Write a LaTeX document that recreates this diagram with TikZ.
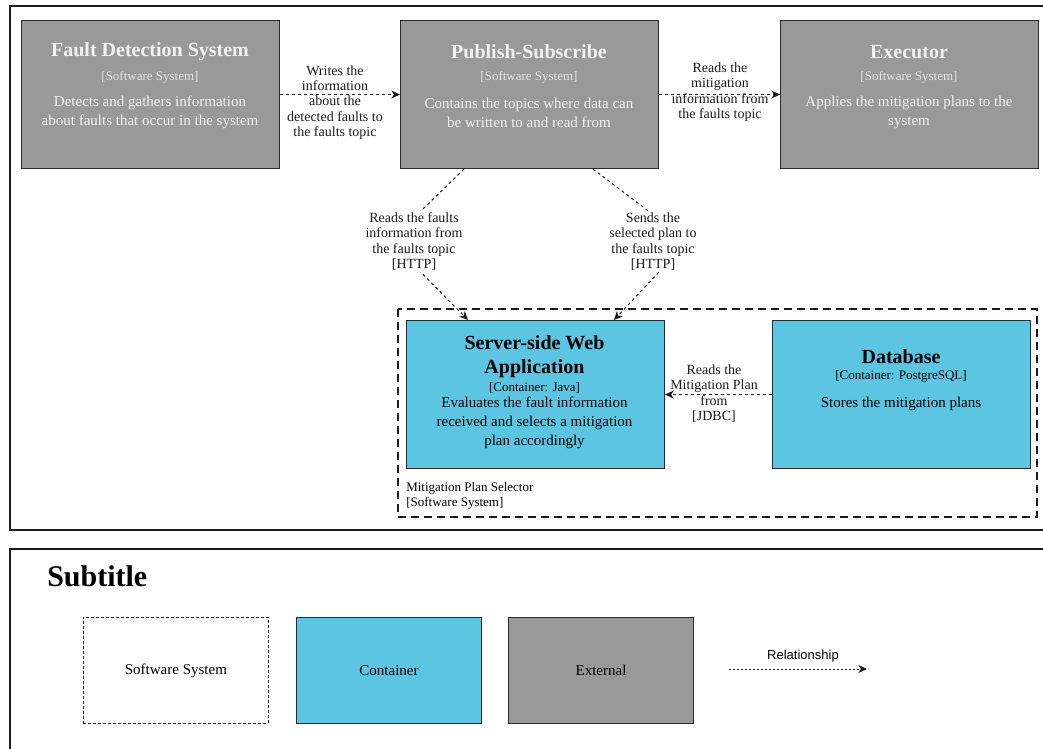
\documentclass[tikz,border=0pt]{standalone}
\usepackage{fontspec}
\setmainfont{Liberation Serif}
\newfontfamily\legendsans{Liberation Sans}
\usetikzlibrary{arrows.meta,calc}
\definecolor{extgray}{HTML}{999999}
\definecolor{contblue}{HTML}{5BC5E2}
\definecolor{edgeink}{HTML}{1A1A1A}
\definecolor{boxline}{HTML}{2A2A2A}
\definecolor{lighttxt}{HTML}{F2F2F2}
\definecolor{typetxt}{HTML}{E4E4E4}
\begin{document}
\begin{tikzpicture}[x=0.75pt,y=-0.75pt,
  sysbox/.style={draw=boxline, line width=0.8pt, minimum width=193.5pt,
    minimum height=111pt, anchor=north west, inner sep=0pt},
  extbox/.style={sysbox, fill=extgray},
  contbox/.style={sysbox, fill=contblue},
  ttl/.style={font=\bfseries\fontsize{15pt}{18pt}\selectfont, align=center, inner sep=0pt},
  typ/.style={font=\fontsize{9.75pt}{11.5pt}\selectfont, align=center, inner sep=0pt},
  dsc/.style={font=\fontsize{11.25pt}{14.25pt}\selectfont, align=center, inner sep=0pt},
  rellabel/.style={font=\fontsize{10.5pt}{11.5pt}\selectfont, align=center, inner sep=1pt, text=edgeink},
  rel/.style={draw=edgeink, line width=0.75pt, dash pattern=on 2.25pt off 2.25pt,
    -{Stealth[length=6.5pt,width=6pt,inset=2pt]}},
  frame/.style={draw=edgeink, line width=1.5pt},
  legbox/.style={draw=boxline, line width=0.75pt, minimum width=138.75pt,
    minimum height=79.5pt, anchor=north west, inner sep=0pt,
    font=\fontsize{11.25pt}{13pt}\selectfont}
]
\useasboundingbox (0,0) rectangle (1043,749);

% outer frames
\draw[frame] (1043,6) -- (10,6) -- (10,530) -- (1043,530);
\draw[frame] (1043,549) -- (10,549) -- (10,749);

% mitigation plan selector boundary
\draw[draw=edgeink, line width=1.1pt, dash pattern=on 6pt off 3.75pt]
  (398,309) rectangle (1037,517);
\node[typ, align=left, anchor=north west, text=black] (bnd) at (406,482)
  {Mitigation Plan Selector\\{}[Software System]};

% external software systems
\node[extbox] (fds) at (21,20) {};
\node[ttl, text=lighttxt] (fdsT) at (150,52) {Fault Detection System};
\node[typ, text=typetxt] (fdsY) at (150,77) {[Software System]};
\node[dsc, text=lighttxt] (fdsD) at (150,112.5)
  {Detects and gathers information\\about faults that occur in the system};

\node[extbox] (ps) at (400,20) {};
\node[ttl, text=lighttxt] (psT) at (529,52) {Publish-Subscribe};
\node[typ, text=typetxt] (psY) at (529,77) {[Software System]};
\node[dsc, text=lighttxt] (psD) at (529,112.5)
  {Contains the topics where data can\\be written to and read from};

\node[extbox] (ex) at (780,20) {};
\node[ttl, text=lighttxt] (exT) at (909,52) {Executor};
\node[typ, text=typetxt] (exY) at (909,77) {[Software System]};
\node[dsc, text=lighttxt] (exD) at (909,112.5)
  {Applies the mitigation plans to the\\system};

% containers
\node[contbox] (srv) at (406,320) {};
\node[ttl] (srvT) at (534.5,357) {Server-side Web\\Application};
\node[typ] (srvY) at (534.5,388) {[Container: Java]};
\node[dsc] (srvD) at (534.5,423)
  {Evaluates the fault information\\received and selects a mitigation\\plan accordingly};

\node[contbox] (db) at (772,320) {};
\node[ttl] (dbT) at (901,357) {Database};
\node[typ] (dbY) at (901,376) {[Container: PostgreSQL]};
\node[dsc] (dbD) at (901,404) {Stores the mitigation plans};

% relationships
\draw[rel] (fds) -- (ps);
\node[rellabel] (l1) at (335,102.5)
  {Writes the\\information\\about the\\detected faults to\\the faults topic};

\draw[rel] (ps) -- (ex);
\node[rellabel] (l2) at (720,92)
  {Reads the\\mitigation\\information from\\the faults topic};

\draw[rel] ($(ps.south west)+(64,0)$) -- (390,241) -- ($(srv.north west)+(62,0)$);
\node[rellabel, fill=white] (l3) at (414,241.5)
  {Reads the faults\\information from\\the faults topic\\{}[HTTP]};

\draw[rel] ($(ps.south west)+(193,0)$) -- (688,241) -- ($(srv.north west)+(208,0)$);
\node[rellabel, fill=white] (l4) at (653,241.5)
  {Sends the\\selected plan to\\the faults topic\\{}[HTTP]};

\draw[rel] (db) -- (srv);
\node[rellabel] (l5) at (714,393.5)
  {Reads the\\Mitigation Plan\\from\\{}[JDBC]};

% legend
\node[font=\bfseries\fontsize{22.5pt}{26pt}\selectfont, anchor=west, inner sep=0pt]
  (sub) at (47,576) {Subtitle};
\node[legbox, draw=edgeink, line width=0.6pt, dash pattern=on 2.25pt off 1.5pt]
  (lgSys) at (83,617) {Software System};
\node[legbox, fill=contblue] (lgCont) at (296,617) {Container};
\node[legbox, fill=extgray] (lgExt) at (508,617) {External};
\coordinate (lgA) at (729,669);
\coordinate (lgB) at (867,669);
\draw[rel, dash pattern=on 1.5pt off 1.5pt] (lgA) -- (lgB);
\node[font=\legendsans\fontsize{9.75pt}{11pt}\selectfont, inner sep=0pt]
  (lgRel) at (803,656) {Relationship};
\end{tikzpicture}
\end{document}
